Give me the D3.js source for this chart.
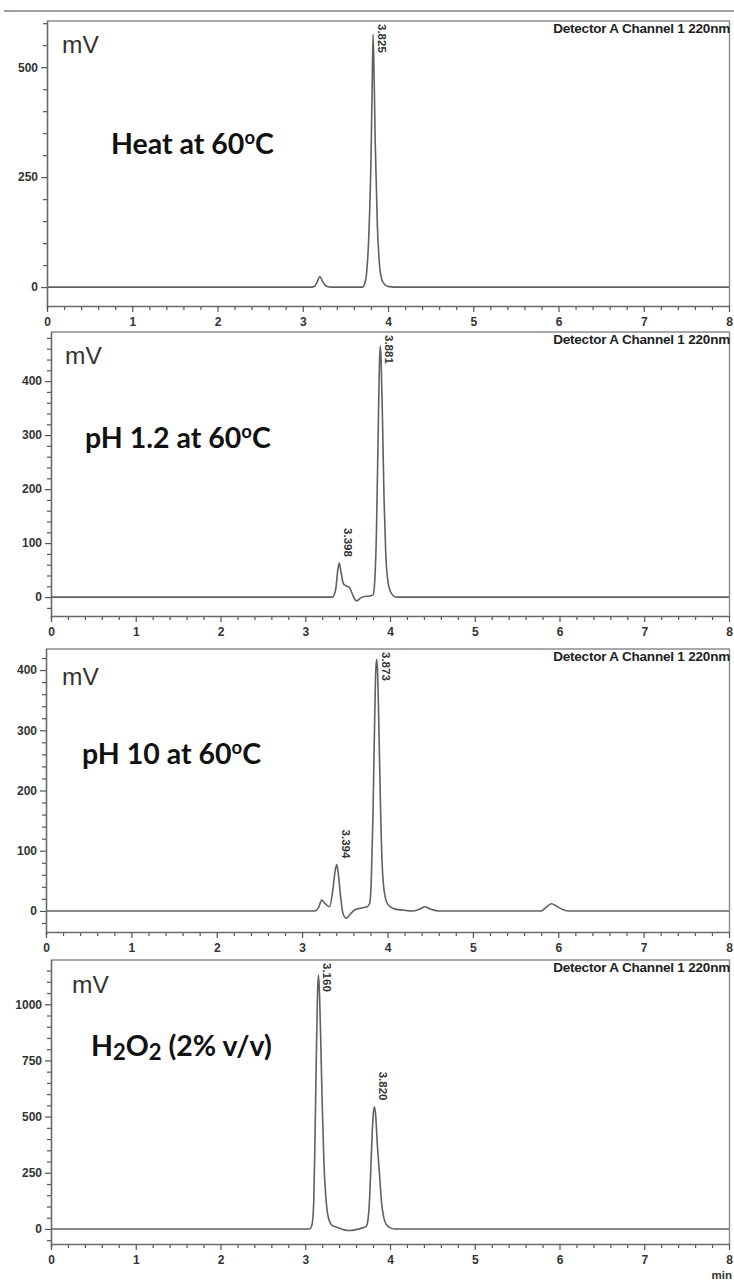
<!DOCTYPE html>
<html><head><meta charset="utf-8">
<script src="https://cdn.jsdelivr.net/npm/d3@7"></script>
<style>html,body{margin:0;padding:0;background:#fff;} svg{display:block;}</style>
</head><body>
<svg id="c" width="734" height="1281"></svg>
<script>
// ---------------- DATA ----------------
const xTickValues = [0, 1, 2, 3, 4, 5, 6, 7, 8];
const detectorLabel = "Detector A Channel 1 220nm";
const unitLabel = "mV";
const xUnitLabel = "min";

// Panel 1: Heat at 60°C
const heatTime   = [0, 3.10, 3.14, 3.17, 3.20, 3.23, 3.27, 3.32, 3.70, 3.725, 3.75, 3.775, 3.80, 3.813, 3.825, 3.838, 3.85, 3.875, 3.90, 3.925, 3.96, 4.01, 4.07, 8];
const heatSignal = [0, 0,    2,    12,   24,   14,   3,    0,    0,    7,     34,   117,   283,  440,   575,   470,   330,  140,   52,   19,    6,    1,    0,    0];
const heatYTicks = [0, 250, 500];
const heatPeakRT = ["3.825"];
const heatPeakTime = [3.825];
const heatPeakHeight = [575];

// Panel 2: pH 1.2 at 60°C
const acidTime   = [0, 3.32, 3.36, 3.38, 3.40, 3.42, 3.45, 3.48, 3.52, 3.55, 3.58, 3.61, 3.65, 3.70, 3.76, 3.80, 3.82, 3.84, 3.86, 3.875, 3.885, 3.895, 3.91, 3.93, 3.95, 3.98, 4.02, 4.07, 8];
const acidSignal = [0, 0,    15,   45,   63,   48,   25,   21,   18,   8,    -3,   -7,   -2,   1,    2,    4,    30,   120,  300,  430,   465,   440,   340,  180,  80,   25,   6,    0,    0];
const acidYTicks = [0, 100, 200, 300, 400];
const acidPeakRT = ["3.398", "3.881"];
const acidPeakTime = [3.40, 3.885];
const acidPeakHeight = [63, 465];

// Panel 3: pH 10 at 60°C
const baseTime   = [0, 3.15, 3.19, 3.23, 3.27, 3.32, 3.36, 3.385, 3.405, 3.425, 3.45, 3.48, 3.52, 3.56, 3.62, 3.70, 3.76, 3.79, 3.81, 3.83, 3.85, 3.863, 3.873, 3.883, 3.90, 3.92, 3.94, 3.97, 4.01, 4.09, 4.20, 4.30, 4.38, 4.44, 4.50, 4.60, 5.80, 5.85, 5.92, 5.98, 6.04, 6.12, 8];
const baseSignal = [0, 0,    5,    18,   12,   7,    35,   65,    77,    60,    25,   -5,   -12,  -6,   2,    5,    7,    12,   50,   160,  320,  400,   418,   400,   300,  160,  70,   25,   10,   3,    1,    0,    3,    7,    3,    0,    0,    5,    12,   8,    3,    0,    0];
const baseYTicks = [0, 100, 200, 300, 400];
const basePeakRT = ["3.394", "3.873"];
const basePeakTime = [3.405, 3.873];
const basePeakHeight = [77, 418];

// Panel 4: H2O2 (2% v/v)
const oxTime   = [0, 3.05, 3.08, 3.10, 3.115, 3.13, 3.145, 3.155, 3.165, 3.18, 3.20, 3.22, 3.25, 3.28, 3.32, 3.37, 3.45, 3.52, 3.60, 3.68, 3.72, 3.74, 3.76, 3.78, 3.80, 3.815, 3.83, 3.85, 3.875, 3.90, 3.93, 3.96, 4.00, 4.05, 8];
const oxSignal = [0, 0,    20,   120,  400,   750,  1050,  1130,  1080,  880,  560,  300,  110,  40,   15,   8,    -3,   -7,   -3,   5,    12,   40,   140,  330,  500,  544,   510,  380,  250,   120,  45,   18,   6,    0,    0];
const oxYTicks = [0, 250, 500, 750, 1000];
const oxPeakRT = ["3.160", "3.820"];
const oxPeakTime = [3.155, 3.815];
const oxPeakHeight = [1130, 544];

// Panel titles (text pieces; "sup" = superscript, "sub" = subscript)
const heatTitle = [["Heat at 60", ""], ["o", "sup"], ["C", ""]];
const acidTitle = [["pH 1.2 at 60", ""], ["o", "sup"], ["C", ""]];
const baseTitle = [["pH 10 at 60", ""], ["o", "sup"], ["C", ""]];
const oxTitle   = [["H", ""], ["2", "sub"], ["O", ""], ["2", "sub"], [" (2% v/v)", ""]];

// ---------------- LAYOUT ----------------
const svg = d3.select("#c");
const RIGHT = 729;
const panels = [
  {time: heatTime, signal: heatSignal, yTicks: heatYTicks, minor: 50, yDomain: [-43, 605],
   rt: heatPeakRT, pt: heatPeakTime, ph: heatPeakHeight, title: heatTitle,
   left: 47, top: 21, bottom: 306, mvX: 62, mvY: 53, titleX: 111, titleY: 154},
  {time: acidTime, signal: acidSignal, yTicks: acidYTicks, minor: 20, yDomain: [-35, 491],
   rt: acidPeakRT, pt: acidPeakTime, ph: acidPeakHeight, title: acidTitle,
   left: 51, top: 332, bottom: 616, mvX: 65, mvY: 364, titleX: 85, titleY: 448},
  {time: baseTime, signal: baseSignal, yTicks: baseYTicks, minor: 20, yDomain: [-35, 435],
   rt: basePeakRT, pt: basePeakTime, ph: basePeakHeight, title: baseTitle,
   left: 46, top: 649, bottom: 932, mvX: 62, mvY: 685, titleX: 82, titleY: 764},
  {time: oxTime, signal: oxSignal, yTicks: oxYTicks, minor: 50, yDomain: [-67, 1197],
   rt: oxPeakRT, pt: oxPeakTime, ph: oxPeakHeight, title: oxTitle,
   left: 51, top: 960, bottom: 1244, mvX: 72, mvY: 993, titleX: 91, titleY: 1056}
];

// top separator line
svg.append("line").attr("x1", 4).attr("x2", 734).attr("y1", 11).attr("y2", 11)
  .attr("stroke", "#9aa0a6").attr("stroke-width", 2);

const tickFont = "'Liberation Sans', Arial, sans-serif";

panels.forEach((p, i) => {
  const g = svg.append("g");
  const x = d3.scaleLinear().domain([0, 8]).range([p.left, RIGHT]);
  const y = d3.scaleLinear().domain(p.yDomain).range([p.bottom, p.top]);

  // frame (top & right)
  g.append("line").attr("x1", p.left).attr("x2", RIGHT + 1).attr("y1", p.top).attr("y2", p.top)
    .attr("stroke", "#8c8c8c").attr("stroke-width", 1.6);
  g.append("line").attr("x1", RIGHT + 0.5).attr("x2", RIGHT + 0.5).attr("y1", p.top).attr("y2", p.bottom)
    .attr("stroke", "#8c8c8c").attr("stroke-width", 1.4);

  // clip
  const cid = "clip" + i;
  svg.append("clipPath").attr("id", cid).append("rect")
    .attr("x", p.left).attr("y", p.top).attr("width", RIGHT - p.left).attr("height", p.bottom - p.top);

  // trace
  const pts = p.time.map((t, k) => [t, p.signal[k]]);
  const line = d3.line().x(d => x(d[0])).y(d => y(d[1])).curve(d3.curveMonotoneX);
  g.append("path").datum(pts).attr("d", line).attr("clip-path", `url(#${cid})`)
    .attr("fill", "none").attr("stroke", "#606060").attr("stroke-width", 1.6)
    .attr("stroke-linejoin", "round");

  // y axis minor ticks
  const minorY = d3.range(Math.ceil(p.yDomain[0] / p.minor) * p.minor, p.yDomain[1], p.minor)
    .filter(v => !p.yTicks.includes(v));
  const ym = g.append("g").attr("transform", `translate(${p.left},0)`)
    .call(d3.axisLeft(y).tickValues(minorY).tickSize(4).tickFormat(""));
  ym.select(".domain").remove();
  // y axis major
  const ya = g.append("g").attr("transform", `translate(${p.left},0)`)
    .call(d3.axisLeft(y).tickValues(p.yTicks).tickFormat(d3.format("d")).tickSize(6).tickSizeOuter(0).tickPadding(3));
  ya.select(".domain").attr("d", `M0.5,${p.top}V${p.bottom + 3}`);

  // x axis minor
  const minorX = d3.range(0, 8.001, 0.2).map(v => +v.toFixed(1)).filter(v => !xTickValues.includes(v));
  const xm = g.append("g").attr("transform", `translate(0,${p.bottom})`)
    .call(d3.axisBottom(x).tickValues(minorX).tickSize(4).tickFormat(""));
  xm.select(".domain").remove();
  const xa = g.append("g").attr("transform", `translate(0,${p.bottom})`)
    .call(d3.axisBottom(x).tickValues(xTickValues).tickFormat(d3.format("d")).tickSize(6).tickSizeOuter(0).tickPadding(5));

  [ym, ya, xm, xa].forEach(a => {
    a.selectAll("line").attr("stroke", "#555").attr("stroke-width", 1.2);
    a.selectAll(".domain").attr("stroke", "#6a6a6a").attr("stroke-width", 1.6);
    a.selectAll("text").attr("font-family", tickFont).attr("font-weight", "bold")
      .attr("font-size", 12).attr("fill", "#333");
  });

  // detector label
  g.append("text").attr("x", RIGHT + 1).attr("y", p.top + 12).attr("text-anchor", "end")
    .attr("font-family", tickFont).attr("font-weight", "bold").attr("font-size", 13.5)
    .attr("letter-spacing", -0.2).attr("fill", "#222").text(detectorLabel);

  // mV
  g.append("text").attr("x", p.mvX).attr("y", p.mvY)
    .attr("font-family", tickFont).attr("font-size", 24.5).attr("fill", "#333").text(unitLabel);

  // title
  const tt = g.append("text").attr("x", p.titleX).attr("y", p.titleY)
    .attr("font-family", "Lato, 'Liberation Sans', sans-serif").attr("font-weight", "bold")
    .attr("font-size", 28.5).attr("fill", "#111");
  p.title.forEach(([s, kind], k) => {
    const prev = k > 0 ? p.title[k - 1][1] : "";
    const ts = tt.append("tspan").text(s);
    if (kind === "sup") ts.attr("font-size", 18.5).attr("dy", -10);
    else if (kind === "sub") ts.attr("font-size", 22).attr("dy", 4);
    else if (prev === "sup") ts.attr("dy", 10);
    else if (prev === "sub") ts.attr("dy", -4);
  });

  // peak labels (rotated)
  p.rt.forEach((lab, k) => {
    const px = x(p.pt[k]) + 5;
    const len = 31;
    let yEnd = y(p.ph[k]) - 4;
    let yStart = Math.max(p.top + 3, yEnd - len);
    g.append("text").attr("transform", `translate(${px},${yStart}) rotate(90)`)
      .attr("font-family", tickFont).attr("font-weight", "bold").attr("font-size", 11.5)
      .attr("fill", "#333").text(lab);
  });

  if (i === panels.length - 1) {
    g.append("text").attr("x", RIGHT + 3).attr("y", p.bottom + 35).attr("text-anchor", "end")
      .attr("font-family", tickFont).attr("font-weight", "bold").attr("font-size", 11.5)
      .attr("fill", "#333").text(xUnitLabel);
  }
});
</script>
</body></html>
